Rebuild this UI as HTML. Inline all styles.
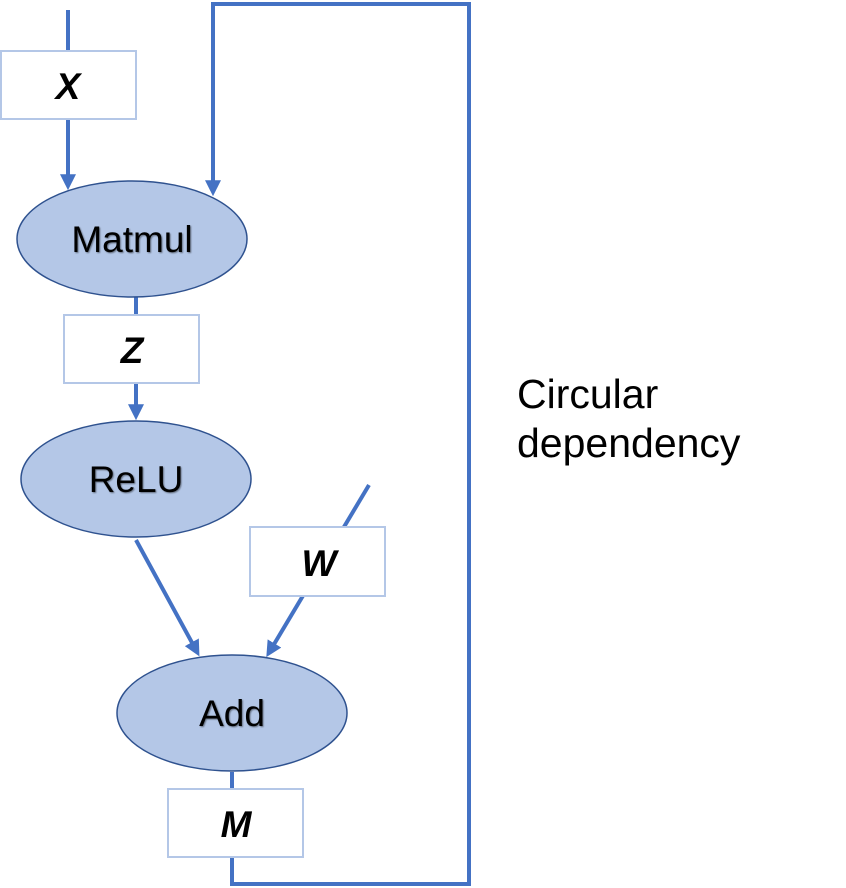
<!DOCTYPE html>
<html><head><meta charset="utf-8"><style>
html,body{margin:0;padding:0;background:#fff;}
svg{display:block;}
text{font-family:"Liberation Sans",Arial,sans-serif;}
</style></head><body>
<svg width="846" height="888" viewBox="0 0 846 888" xmlns="http://www.w3.org/2000/svg">
<defs>
<marker id="a" markerWidth="4" markerHeight="4" refX="2.2" refY="2" orient="auto" markerUnits="strokeWidth">
<path d="M0,0 L4,2 L0,4 z" fill="#4472C4"/></marker>
<filter id="sh"><feDropShadow dx="1" dy="1" stdDeviation="0.8" flood-color="#000" flood-opacity="0.45"/></filter>
</defs>
<g stroke="#4472C4" stroke-width="4" fill="none">
<line x1="68" y1="10" x2="68" y2="183" marker-end="url(#a)"/>
<polyline points="232,772 232,884 469,884 469,4 213,4 213,189" marker-end="url(#a)"/>
<line x1="136" y1="297" x2="136" y2="413" marker-end="url(#a)"/>
<line x1="136" y1="540" x2="196" y2="650" marker-end="url(#a)"/>
<line x1="369" y1="485" x2="270" y2="651" marker-end="url(#a)"/>
</g>
<g fill="#B4C7E7" stroke="#2F528F" stroke-width="1.5">
<ellipse cx="132" cy="239" rx="115" ry="58"/>
<ellipse cx="136" cy="479" rx="115" ry="58"/>
<ellipse cx="232" cy="713" rx="115" ry="58"/>
</g>
<g font-size="37" text-anchor="middle" fill="#000" filter="url(#sh)">
<text x="132" y="252">Matmul</text>
<text x="136" y="492">ReLU</text>
<text x="232" y="726">Add</text>
</g>
<g fill="#fff" stroke="#B4C7E7" stroke-width="2">
<rect x="1" y="51" width="135" height="68"/>
<rect x="64" y="315" width="135" height="68"/>
<rect x="250" y="527" width="135" height="69"/>
<rect x="168" y="789" width="135" height="68"/>
</g>
<g font-size="37" font-weight="bold" font-style="italic" text-anchor="middle" fill="#000">
<text x="68" y="99">X</text>
<text x="132" y="363">Z</text>
<text x="319" y="576">W</text>
<text x="236" y="837">M</text>
</g>
<text x="517" y="408" font-size="41" fill="#000">Circular</text>
<text x="517" y="457" font-size="41" fill="#000">dependency</text>
</svg>
</body></html>
